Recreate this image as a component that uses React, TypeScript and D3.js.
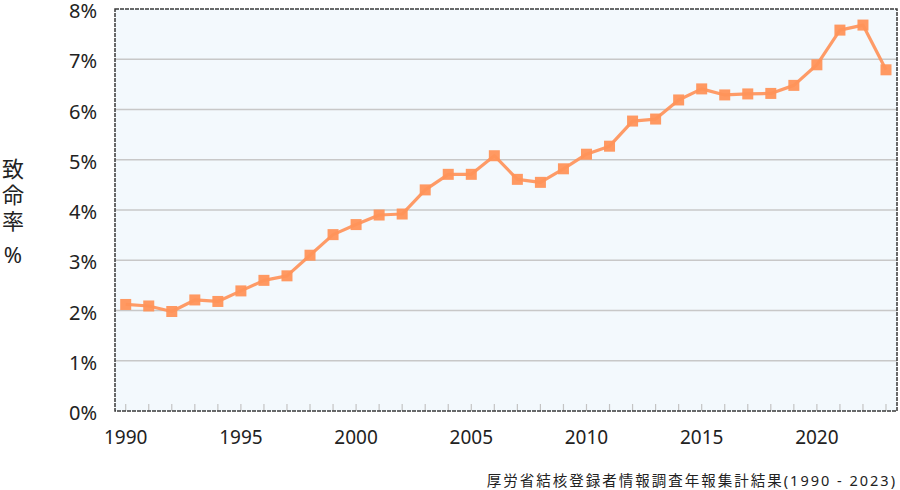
import React from "react";
import * as d3 from "d3";

const years = d3.range(1990, 2024);
const rates = [
  2.12, 2.09, 1.98, 2.21, 2.18, 2.39, 2.6, 2.69, 3.1, 3.51, 3.71, 3.9, 3.92, 4.4, 4.71, 4.71,
  5.08, 4.61, 4.55, 4.82, 5.11, 5.27, 5.77, 5.81, 6.19, 6.41, 6.29, 6.31, 6.32, 6.48, 6.89, 7.58,
  7.68, 6.79,
];
const yTicks = [0, 1, 2, 3, 4, 5, 6, 7, 8];
const xLabels = [1990, 1995, 2000, 2005, 2010, 2015, 2020];
const yTitle = ["致", "命", "率", "%"];
const source = "厚労省結核登録者情報調査年報集計結果(1990 - 2023)";

const W = 900, H = 490;
const L = 115, R = 897, T = 9, B = 411;
const FONT = "'Noto Sans', 'Noto Sans CJK JP', sans-serif";

export default function App() {
  const x = d3.scaleLinear().domain([1990, 2023]).range([125.7, 886]);
  const y = d3.scaleLinear().domain([0, 8]).range([B, T]);
  const line = d3.line<number>().x((_, i) => x(years[i])).y((d) => y(d));
  const ms = 11;
  return (
    <svg width={W} height={H} style={{ position: "absolute", left: 0, top: 0, background: "#fff" }}>
      <rect x={L} y={T} width={R - L} height={B - T} fill="#f3f9fd" />
      {yTicks.filter((t) => t > 0 && t < 8).map((t) => (
        <line key={t} x1={L} x2={R} y1={y(t)} y2={y(t)} stroke="#c8c8c8" strokeWidth={1.5} />
      ))}
      {years.map((yr) => (
        <line key={yr} x1={x(yr)} x2={x(yr)} y1={B} y2={B - 7} stroke="#c4c4c4" strokeWidth={1.2} />
      ))}
      <rect x={L} y={T} width={R - L} height={B - T} fill="none" stroke="#3a3a3a" strokeWidth={1.5} strokeDasharray="4,1" />
      <path d={line(rates) || ""} fill="none" stroke="#ff935a" strokeOpacity={0.92} strokeWidth={3.2} strokeLinejoin="round" />
      {rates.map((r, i) => (
        <rect key={i} x={x(years[i]) - ms / 2} y={y(r) - ms / 2} width={ms} height={ms} fill="#ff935a" fillOpacity={0.95} />
      ))}
      {yTicks.map((t) => (
        <text key={t} x={97} y={y(t) + 9} textAnchor="end" fontFamily={FONT} fontSize={20} fill="#222">
          {t}%
        </text>
      ))}
      {xLabels.map((t) => (
        <text key={t} x={x(t)} y={444} textAnchor="middle" fontFamily={FONT} fontSize={19} fill="#222">
          {t}
        </text>
      ))}
      {yTitle.map((c, i) => (
        <text key={i} x={13} y={[177, 203, 229, 263][i]} textAnchor="middle" fontFamily={FONT} fontSize={22} fill="#222">
          {c}
        </text>
      ))}
      <text x={897} y={486} textAnchor="end" fontFamily={FONT} fontSize={14.5} letterSpacing={2} fill="#222">
        {source}
      </text>
    </svg>
  );
}
